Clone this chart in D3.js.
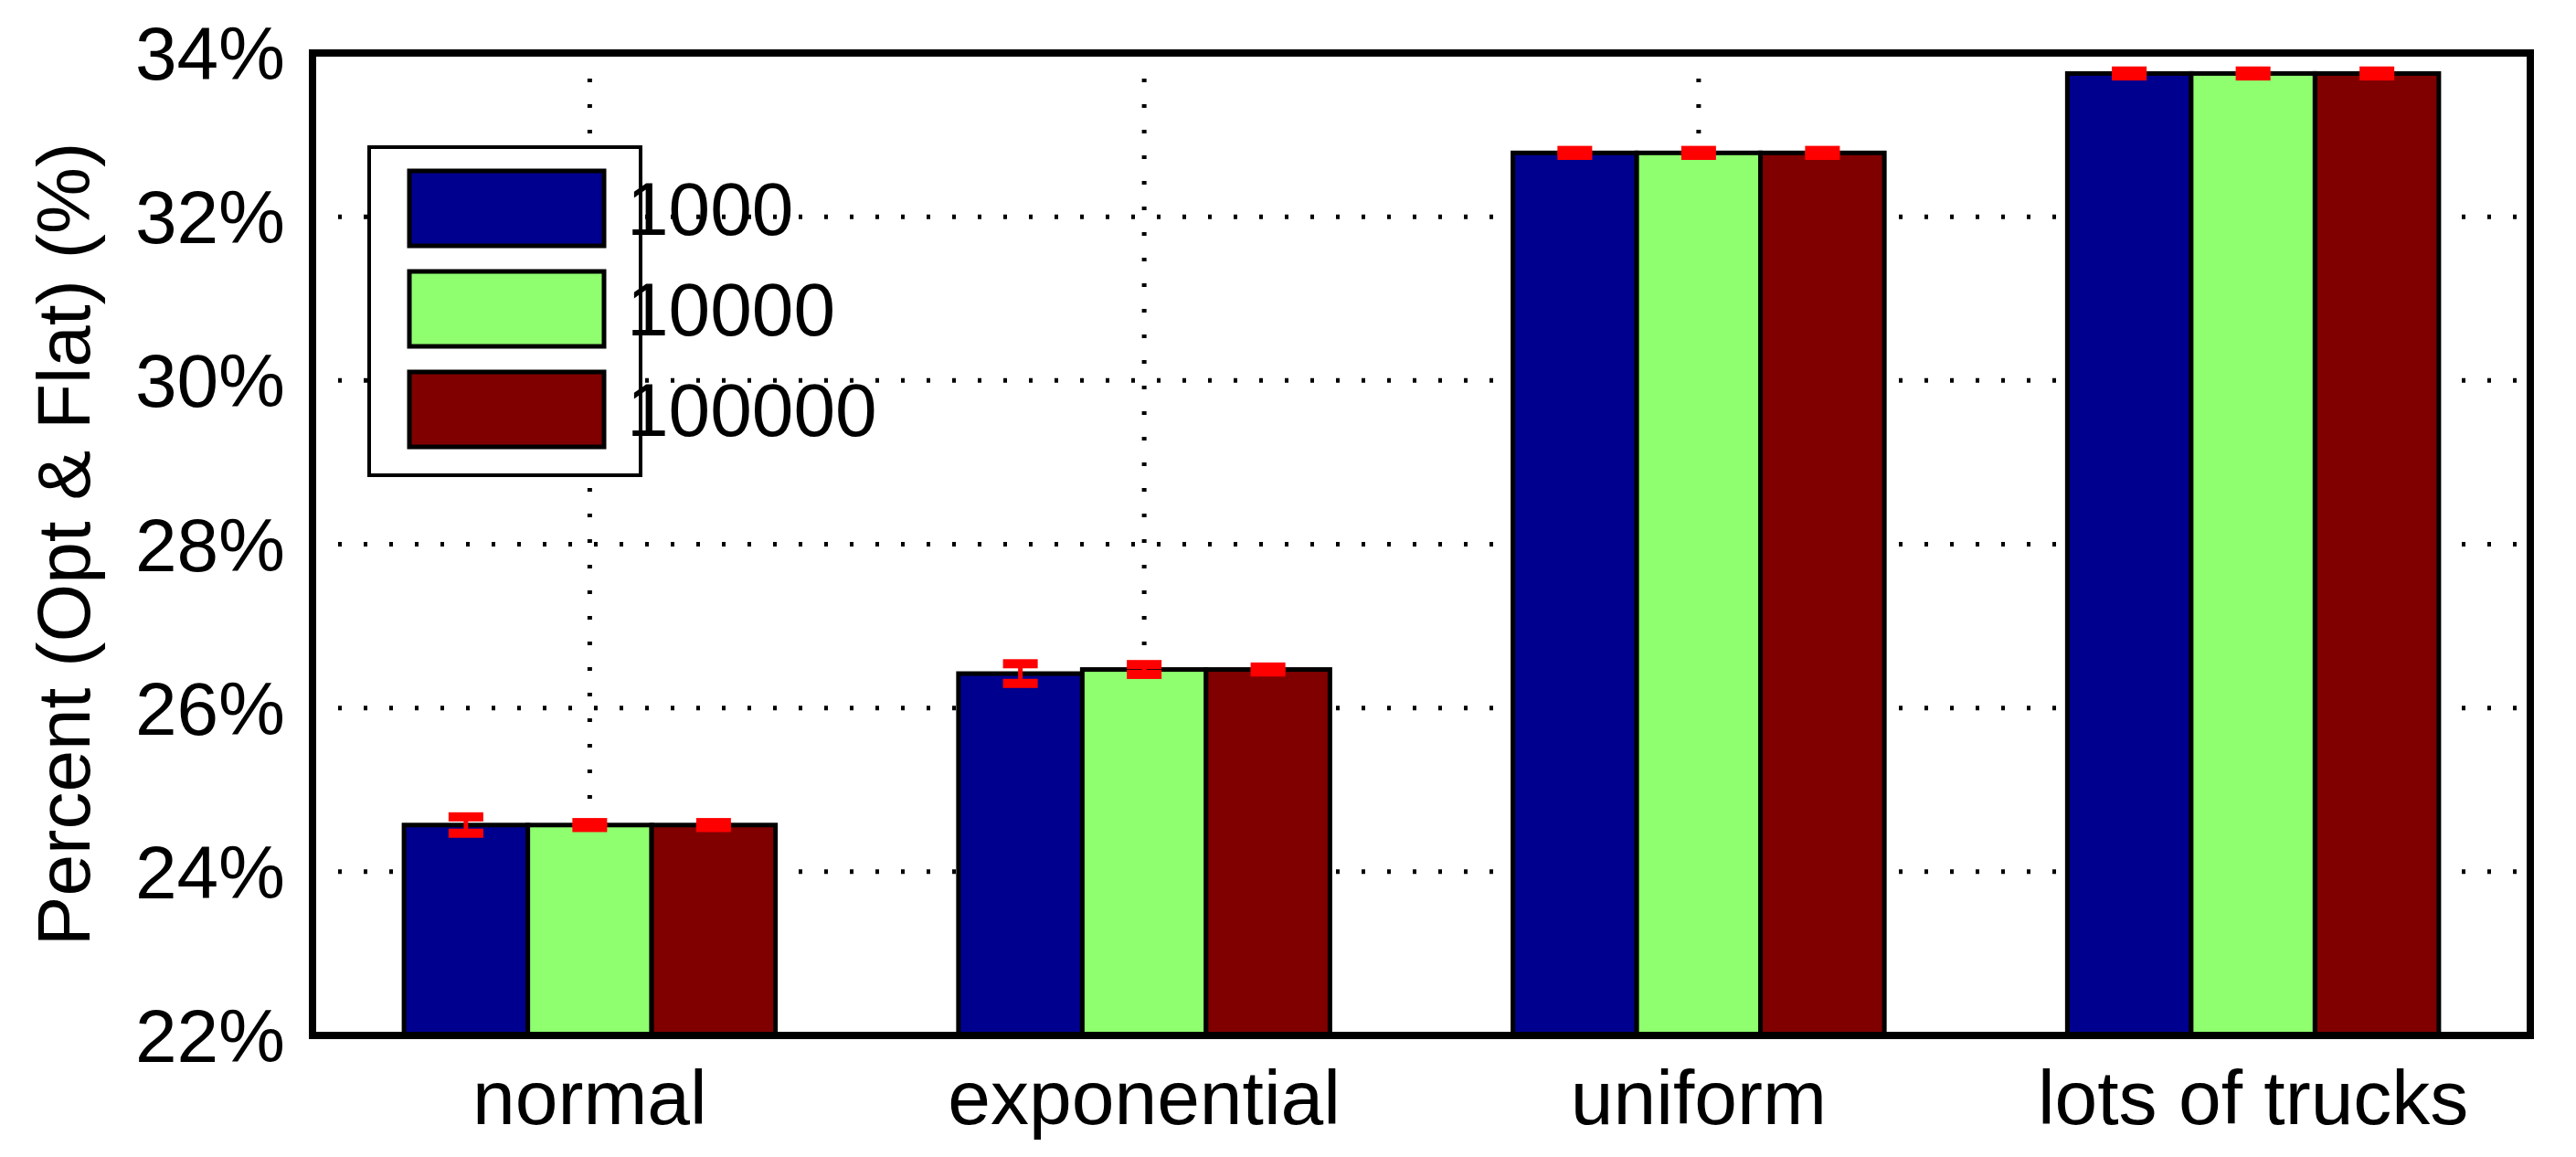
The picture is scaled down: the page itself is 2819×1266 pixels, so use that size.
<!DOCTYPE html>
<html><head><meta charset="utf-8">
<script src="https://cdn.jsdelivr.net/npm/d3@7"></script>
<style>body{margin:0;background:#fff}text{font-family:"Liberation Sans Narrow","Liberation Sans",Arial,sans-serif}</style>
</head><body><svg id="c" width="2819" height="1266"></svg>
<script>
var categories = ["normal", "exponential", "uniform", "lots of trucks"];
var seriesNames = ["1000", "10000", "100000"];
var colors = ["#00008f", "#8fff6f", "#800000"];
var v1000 = [24.57, 26.42, 32.78, 33.75];
var v10000 = [24.57, 26.47, 32.78, 33.75];
var v100000 = [24.57, 26.47, 32.78, 33.75];
var err1000 = [0.1, 0.12, 0.03, 0.03];
var err10000 = [0.03, 0.06, 0.03, 0.03];
var err100000 = [0.03, 0.03, 0.03, 0.03];
var yTicks = [22, 24, 26, 28, 30, 32, 34];

var values = [v1000, v10000, v100000], errs = [err1000, err10000, err100000];
var svg = d3.select("#c");
var L = 342, R = 2769, T = 58, B = 1133;

var x = d3.scaleBand().domain(categories).range([L, R]);
var xs = d3.scaleBand().domain(seriesNames).range([0, x.bandwidth() * 0.67]);
var y = d3.scaleLinear().domain([22, 34]).range([B, T]);

// grid
svg.append("g").selectAll("line").data(yTicks.slice(1, -1)).enter().append("line")
    .attr("x1", L).attr("x2", R).attr("y1", d => y(d)).attr("y2", d => y(d))
    .attr("stroke", "#000").attr("stroke-width", 5).attr("stroke-dasharray", "4,24");
svg.append("g").selectAll("line").data(categories).enter().append("line")
    .attr("x1", d => x(d) + x.bandwidth() / 2).attr("x2", d => x(d) + x.bandwidth() / 2)
    .attr("y1", T).attr("y2", B)
    .attr("stroke", "#000").attr("stroke-width", 5).attr("stroke-dasharray", "4,24");

// bars
var off = (x.bandwidth() - xs.range()[1]) / 2;
seriesNames.forEach(function(s, si) {
  var g = svg.append("g");
  g.selectAll("rect").data(categories).enter().append("rect")
    .attr("x", d => x(d) + off + xs(s)).attr("width", xs.bandwidth())
    .attr("y", (d, i) => y(values[si][i])).attr("height", (d, i) => B - y(values[si][i]))
    .attr("fill", colors[si]).attr("stroke", "#000").attr("stroke-width", 5);
  categories.forEach(function(c, i) {
    var cx = x(c) + off + xs(s) + xs.bandwidth() / 2, v = values[si][i], e = errs[si][i];
    g.append("line").attr("x1", cx).attr("x2", cx).attr("y1", y(v + e)).attr("y2", y(v - e))
      .attr("stroke", "red").attr("stroke-width", 5);
    [v + e, v - e].forEach(function(t) {
      g.append("rect").attr("x", cx - 19).attr("width", 38).attr("y", y(t) - 5).attr("height", 10).attr("fill", "red");
    });
  });
});

// frame
svg.append("rect").attr("x", L).attr("y", T).attr("width", R - L).attr("height", B - T)
  .attr("fill", "none").attr("stroke", "#000").attr("stroke-width", 8);

// axes labels
svg.append("g").selectAll("text").data(yTicks).enter().append("text")
  .attr("x", 312).attr("y", d => y(d) + 29).attr("text-anchor", "end")
  .attr("font-size", 82).text(d => d + "%");
svg.append("g").selectAll("text").data(categories).enter().append("text")
  .attr("x", d => x(d) + x.bandwidth() / 2).attr("y", 1230).attr("text-anchor", "middle")
  .attr("font-size", 84).text(d => d);
svg.append("text").attr("transform", "translate(98," + (T + B) / 2 + ") rotate(-90)")
  .attr("text-anchor", "middle").attr("font-size", 82).text("Percent (Opt & Flat) (%)");

// legend
var lg = svg.append("g");
lg.append("rect").attr("x", 404).attr("y", 161).attr("width", 297).attr("height", 359)
  .attr("fill", "#fff").attr("stroke", "#000").attr("stroke-width", 4);
seriesNames.forEach(function(s, i) {
  var yy = 187 + i * 110;
  lg.append("rect").attr("x", 448).attr("y", yy).attr("width", 213).attr("height", 82)
    .attr("fill", colors[i]).attr("stroke", "#000").attr("stroke-width", 5);
  lg.append("text").attr("x", 686).attr("y", yy + 70).attr("font-size", 82).text(s);
});
</script></body></html>
